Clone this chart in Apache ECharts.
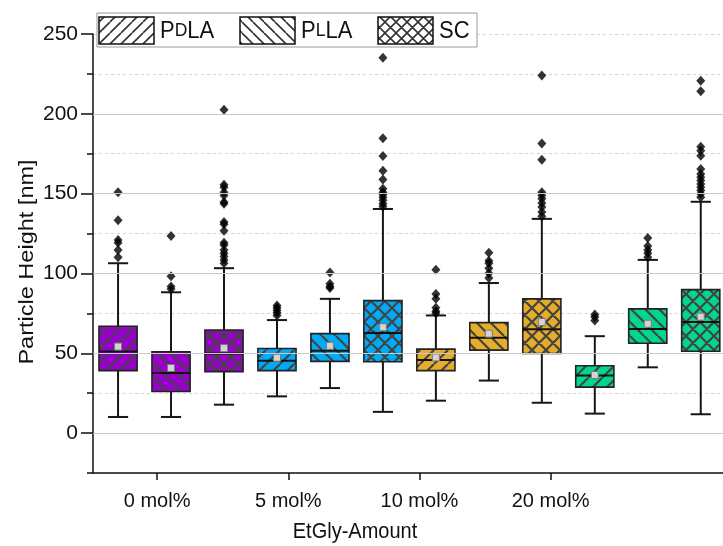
<!DOCTYPE html>
<html>
<head>
<meta charset="utf-8">
<script src="https://cdn.jsdelivr.net/npm/echarts@6/dist/echarts.min.js"></script>
<style>html,body{margin:0;padding:0;background:#fff}#c{width:723px;height:546px}</style>
</head>
<body>
<div id="c"></div>
<script>
// ---- data ----
const categories = ['0 mol%', '5 mol%', '10 mol%', '20 mol%'];
const types = ['PDLA', 'PLLA', 'SC'];
// one entry per box, order: group by group, PDLA, PLLA, SC
const whiskerLow  = [10.1, 10.1, 17.8, 23.0, 28.2, 13.3, 20.3, 32.9, 19.0, 12.2, 41.2, 11.8];
const q1          = [39.1, 26.1, 38.5, 39.1, 44.9, 44.7, 39.1, 52.0, 49.9, 28.8, 56.3, 51.3];
const median      = [51.1, 37.7, 49.9, 45.3, 51.6, 62.7, 45.8, 59.8, 65.0, 36.0, 65.2, 69.6];
const q3          = [66.9, 50.9, 64.6, 53.0, 62.3, 83.0, 52.6, 69.2, 84.1, 42.2, 77.8, 89.9];
const whiskerHigh = [106.4, 88.2, 103.3, 70.8, 84.1, 140.4, 73.7, 94.0, 134.2, 60.7, 108.5, 144.9];
const meanVal     = [54.2, 40.8, 53.2, 47.2, 54.7, 66.3, 47.4, 62.3, 69.6, 36.4, 68.5, 72.9];
const outliers = [
  [150.9, 133.3, 120.9, 119.3, 114.7, 110.1],
  [123.4, 98.3, 91.9, 90.3],
  [202.5, 155.5, 154.0, 150.9, 148.9, 144.7, 143.7, 132.3, 130.8, 126.7, 119.3, 117.8, 114.7, 112.6, 110.6, 108.5, 106.4],
  [79.9, 78.5, 77.0, 75.4, 73.7],
  [100.6, 93.6, 91.9, 90.9],
  [235.2, 184.7, 173.5, 164.4, 158.8, 153.0, 150.9, 149.5, 147.8, 145.8, 143.7, 142.0],
  [102.3, 87.2, 84.1, 78.5, 76.4, 75.0],
  [113.0, 108.0, 106.4, 103.3, 100.2, 97.1],
  [224.0, 181.4, 171.2, 150.9, 148.9, 146.8, 144.1, 141.6, 138.5, 135.8],
  [74.3, 72.7, 70.6],
  [122.2, 117.2, 114.7, 112.6, 110.1],
  [220.7, 214.1, 179.3, 176.8, 173.7, 165.4, 162.3, 160.2, 158.2, 156.1, 154.0, 152.0, 149.9, 147.8]
];
const yTicks = [0, 50, 100, 150, 200, 250];

// ---- styling ----
const groupColors = ['#9a00cc', '#00aaf5', '#e6ad2b', '#00d68e'];
const tickPos = [1.737, 4.214, 6.69, 9.166];
const BOX_W = 0.72, CAP_W = 0.38;

function makePattern(kind, S, color, lw) {
  const c = document.createElement('canvas');
  c.width = S; c.height = S;
  const ctx = c.getContext('2d');
  ctx.strokeStyle = color; ctx.lineWidth = lw;
  ctx.beginPath();
  for (let k = -1; k <= 1; k++) {
    if (kind === 'f' || kind === 'x') { ctx.moveTo(k * S, S); ctx.lineTo(k * S + S, 0); }
    if (kind === 'b' || kind === 'x') { ctx.moveTo(k * S, 0); ctx.lineTo(k * S + S, S); }
  }
  ctx.stroke();
  return c;
}
const kinds = ['f', 'b', 'x'];
const boxPatterns = kinds.map(k => makePattern(k, 14, '#444', 2.2));
const legPatterns = kinds.map(k => makePattern(k, 11, '#333', 1.6));

const boxData = whiskerLow.map((v, i) => [i + 1, v, q1[i], median[i], q3[i], whiskerHigh[i], meanVal[i], Math.floor(i / 3), i % 3]);
const outData = [];
outliers.forEach((arr, i) => arr.forEach(v => outData.push([i + 1, v])));

const chart = echarts.init(document.getElementById('c'), null, {renderer: 'canvas'});
const FONT = 'Liberation Sans, Arial, sans-serif';

const legendItems = [];
const legX = [99, 240, 378];
const legText = ['{a|P}{b|D}{a|LA}', '{a|P}{b|L}{a|LA}', '{a|SC}'];
for (let i = 0; i < 3; i++) {
  legendItems.push({type: 'rect', shape: {x: legX[i], y: 17, width: 55, height: 27}, style: {fill: '#fff', stroke: null}, z: 101});
  legendItems.push({type: 'rect', shape: {x: legX[i], y: 17, width: 55, height: 27}, style: {fill: {image: legPatterns[i], repeat: 'repeat'}, stroke: '#111', lineWidth: 1.5}, z: 102});
  legendItems.push({type: 'text', x: legX[i] + 61, y: 31, scaleY: 1.1, z: 102, style: {text: legText[i], verticalAlign: 'middle', fill: '#111', font: '22px ' + FONT,
    rich: {a: {fontSize: 22, fontFamily: FONT, fill: '#111'}, b: {fontSize: 17.5, fontFamily: FONT, fill: '#111'}}}});
}

chart.setOption({
  animation: false,
  backgroundColor: '#fff',
  grid: {left: 93, right: 0, top: 34, bottom: 73, containLabel: false},
  xAxis: {
    type: 'value', min: 0.527, max: 12.42,
    axisLine: {show: true, onZero: false, lineStyle: {color: '#111', width: 1.5}},
    axisTick: {show: true, customValues: tickPos, length: 7, lineStyle: {color: '#111', width: 1.5}},
    axisLabel: {show: true, customValues: tickPos, margin: 18, fontSize: 20, fontFamily: FONT, color: '#111',
      formatter: v => { let best = 0; tickPos.forEach((t, i) => { if (Math.abs(t - v) < Math.abs(tickPos[best] - v)) best = i; }); return categories[best]; }},
    splitLine: {show: false}
  },
  yAxis: [{
    type: 'value', min: -25, max: 250, interval: 25, position: 'left',
    axisLine: {show: true, lineStyle: {color: '#111', width: 1.5}},
    axisTick: {show: true, length: 6, lineStyle: {color: '#111', width: 1.5}},
    axisLabel: {margin: 15, fontSize: 21, fontFamily: FONT, color: '#111', formatter: v => (v % 50 === 0 ? String(v) : '')},
    splitLine: {show: true, lineStyle: {color: '#d6d6d6', width: 1, type: [3, 3]}}
  }, {
    type: 'value', min: -25, max: 250, interval: 25, position: 'left',
    axisLine: {show: false},
    axisTick: {show: true, customValues: yTicks, length: 12, lineStyle: {color: '#111', width: 1.5}},
    axisLabel: {show: false},
    splitLine: {show: false}
  }],
  series: [{
    type: 'line', data: [], silent: true, z: 1,
    markLine: {silent: true, symbol: 'none', label: {show: false}, animation: false,
      lineStyle: {color: '#c8c8c8', width: 1.2, type: 'solid'},
      data: yTicks.filter(v => v < 250).map(v => ({yAxis: v}))}
  }, {
    type: 'custom', z: 3, data: boxData,
    renderItem: (params, api) => {
      const x = api.value(0);
      const pLo = api.coord([x, api.value(1)]);
      const pQ1 = api.coord([x, api.value(2)]);
      const pMed = api.coord([x, api.value(3)]);
      const pQ3 = api.coord([x, api.value(4)]);
      const pHi = api.coord([x, api.value(5)]);
      const pMean = api.coord([x, api.value(6)]);
      const g = api.value(7), t = api.value(8);
      const w = api.size([BOX_W, 0])[0];
      const cw = api.size([CAP_W, 0])[0];
      const cx = pLo[0];
      const wl = {stroke: '#161616', lineWidth: 2};
      const rectShape = {x: cx - w / 2, y: pQ3[1], width: w, height: pQ1[1] - pQ3[1]};
      return {type: 'group', children: [
        {type: 'line', shape: {x1: cx, y1: pQ1[1], x2: cx, y2: pLo[1]}, style: wl},
        {type: 'line', shape: {x1: cx, y1: pQ3[1], x2: cx, y2: pHi[1]}, style: wl},
        {type: 'line', shape: {x1: cx - cw / 2, y1: pLo[1], x2: cx + cw / 2, y2: pLo[1]}, style: wl},
        {type: 'line', shape: {x1: cx - cw / 2, y1: pHi[1], x2: cx + cw / 2, y2: pHi[1]}, style: wl},
        {type: 'rect', shape: rectShape, style: {fill: groupColors[g], stroke: null}},
        {type: 'rect', shape: rectShape, style: {fill: {image: boxPatterns[t], repeat: 'repeat'}, stroke: null}},
        {type: 'rect', shape: rectShape, style: {fill: null, stroke: '#222', lineWidth: 1.6}},
        {type: 'line', shape: {x1: cx - w / 2, y1: pMed[1], x2: cx + w / 2, y2: pMed[1]}, style: {stroke: '#111', lineWidth: 2}},
        {type: 'rect', shape: {x: cx - 3.5, y: pMean[1] - 3.5, width: 7, height: 7}, style: {fill: '#d4d4d4', stroke: '#7a7a7a', lineWidth: 1}}
      ]};
    }
  }, {
    type: 'scatter', z: 4, data: outData, symbol: 'diamond', symbolSize: [9, 10],
    itemStyle: {color: '#000'}, silent: true
  }],
  graphic: [
    {type: 'text', x: 27, y: 262, rotation: Math.PI / 2, scaleX: 1.12, z: 100,
      style: {text: 'Particle Height [nm]', font: '21px ' + FONT, fill: '#111', align: 'center', verticalAlign: 'middle'}},
    {type: 'text', x: 355, y: 532, scaleY: 1.1, z: 100,
      style: {text: 'EtGly-Amount', font: '20px ' + FONT, fill: '#111', align: 'center', verticalAlign: 'middle'}},
    {type: 'rect', shape: {x: 97, y: 13, width: 380, height: 34}, style: {fill: '#fff', stroke: '#999', lineWidth: 1}, z: 100},
    ...legendItems
  ]
});
</script>
</body>
</html>
